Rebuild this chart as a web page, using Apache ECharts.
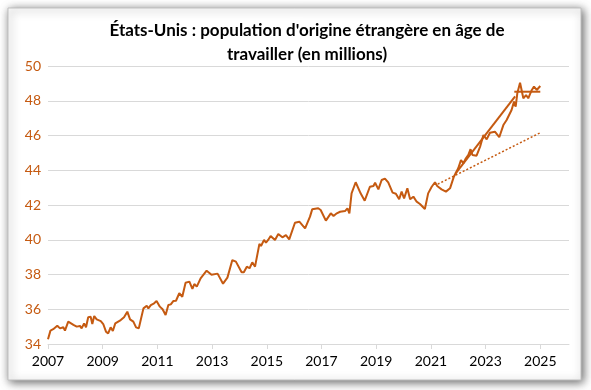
<!DOCTYPE html>
<html>
<head>
<meta charset="utf-8">
<script src="https://cdn.jsdelivr.net/npm/echarts@6/dist/echarts.min.js"></script>
<style>
html,body{margin:0;padding:0;background:#ffffff;}
#c{width:591px;height:390px;}
</style>
</head>
<body>
<div id="c"></div>
<script>
// Decimal years (x) and foreign-born working-age population (millions)
var years = [2007.00,2007.09,2007.19,2007.34,2007.44,2007.56,2007.62,2007.74,2007.80,2007.93,
2008.05,2008.17,2008.23,2008.32,2008.39,2008.47,2008.56,2008.62,2008.69,2008.78,2008.93,
2009.02,2009.12,2009.20,2009.29,2009.37,2009.46,2009.53,2009.66,2009.78,2009.90,
2010.00,2010.12,2010.22,2010.32,2010.39,2010.49,2010.61,2010.67,2010.76,2010.88,2010.97,
2011.09,2011.19,2011.30,2011.40,2011.49,2011.58,2011.68,2011.80,2011.91,
2012.03,2012.10,2012.17,2012.28,2012.35,2012.44,2012.58,2012.80,2012.98,
2013.20,2013.40,2013.56,2013.74,2013.87,
2014.08,2014.16,2014.27,2014.37,2014.47,2014.57,2014.73,2014.79,2014.90,2014.97,
2015.05,2015.14,2015.30,2015.42,2015.57,2015.70,2015.82,
2016.03,2016.19,2016.25,2016.40,2016.58,2016.66,2016.88,2016.97,
2017.16,2017.34,2017.44,2017.56,2017.68,2017.86,2017.95,
2018.02,2018.10,2018.25,2018.43,2018.58,2018.77,2018.90,2018.96,
2019.08,2019.20,2019.32,2019.44,2019.60,2019.72,2019.84,2019.93,
2020.02,2020.14,2020.24,2020.36,2020.48,2020.60,2020.78,2020.90,
2021.03,2021.15,2021.23,2021.39,2021.55,2021.70,2021.84,
2022.00,2022.10,2022.19,2022.28,2022.37,2022.45,2022.52,2022.67,2022.80,2022.92,
2023.04,2023.16,2023.34,2023.50,2023.65,2023.77,2023.95,
2024.04,2024.10,2024.16,2024.26,2024.38,2024.48,2024.56,2024.69,2024.77,2024.87,
2025.00];
var population = [34.27,34.77,34.85,35.05,34.90,34.96,34.77,35.29,35.38,35.10,
35.00,35.04,34.90,35.19,34.96,35.54,35.57,35.15,35.61,35.42,35.32,
35.15,34.71,34.61,34.96,34.75,35.19,35.15,35.38,35.54,35.86,
35.42,35.29,34.96,34.90,35.38,36.05,36.20,36.05,36.24,36.34,36.47,
36.15,36.00,35.67,36.24,36.28,36.47,36.49,36.92,36.72,
37.53,37.49,37.59,37.17,37.45,37.30,37.78,38.22,37.99,
38.05,37.47,37.82,38.83,38.74,
38.13,38.13,38.45,38.36,38.70,38.45,39.76,39.64,39.99,39.83,
39.99,40.22,39.99,40.33,40.14,40.27,40.02,
40.98,41.04,41.10,40.66,41.33,41.75,41.81,41.71,
41.10,41.52,41.37,41.52,41.61,41.65,41.81,
41.52,42.67,43.31,42.67,42.25,43.05,43.09,43.28,
42.90,43.44,43.52,43.30,42.71,42.65,42.33,42.77,
42.38,42.96,42.33,42.48,42.19,42.06,41.77,42.67,
43.05,43.31,43.09,42.90,42.77,42.96,43.63,
44.11,44.59,44.40,44.69,44.88,45.21,44.88,44.84,45.36,46.03,
45.78,46.16,46.22,45.90,46.60,46.89,47.47,
47.95,47.66,48.43,49.04,48.14,48.33,48.14,48.62,48.81,48.62,
48.85];
// Pre-pandemic trend (dotted)
var trendPreX = [2021.25, 2025.00];
var trendPreY = [43.20, 46.16];
// Post-2021 trend (solid)
var trendPostX = [2021.90, 2024.08];
var trendPostY = [43.80, 48.25];
// Recent plateau (solid horizontal)
var plateauX = [2024.05, 2025.00];
var plateauY = [48.52, 48.52];
// Tick labels
var xTicks = [2007, 2009, 2011, 2013, 2015, 2017, 2019, 2021, 2023, 2025];

function pairs(xs, ys){ return xs.map(function(x,i){ return [x, ys[i]]; }); }

var col = '#C55A11';
var chart = echarts.init(document.getElementById('c'), null, {renderer:'canvas'});
chart.setOption({
  animation: false,
  backgroundColor: '#ffffff',
  graphic: [{
    type: 'rect', z: -10,
    shape: {x: 8, y: 8, width: 573, height: 372},
    style: {fill: '#ffffff', stroke: '#bfbfbf', lineWidth: 1,
            shadowBlur: 9, shadowColor: 'rgba(0,0,0,0.6)', shadowOffsetX: 2, shadowOffsetY: 2}
  }],
  title: {
    text: "États-Unis : population d'origine étrangère en âge de\ntravailler (en millions)",
    left: 302, textAlign: 'center', top: 14,
    textStyle: {fontFamily: 'Lato', fontWeight: 'bold', fontSize: 17, color: '#000', lineHeight: 24}
  },
  grid: {left: 48, right: 22, top: 66, bottom: 46},
  xAxis: {
    type: 'value', min: 2007, max: 2026.05,
    axisLine: {show: true, lineStyle: {color: '#d9d9d9', width: 1}},
    axisTick: {show: true, customValues: xTicks, length: 5, lineStyle: {color: '#d9d9d9'}},
    axisLabel: {customValues: xTicks, color: '#000', fontFamily: 'Lato', fontSize: 14, margin: 10,
                formatter: function(v){ return String(Math.round(v)); }},
    splitLine: {show: false}
  },
  yAxis: {
    type: 'value', min: 34, max: 50, interval: 2,
    axisLine: {show: false}, axisTick: {show: false},
    axisLabel: {color: col, fontFamily: 'Lato', fontSize: 14, margin: 7},
    splitLine: {lineStyle: {color: '#d9d9d9', width: 1}}
  },
  series: [
    {type: 'line', data: pairs(years, population), symbol: 'none',
     lineStyle: {color: col, width: 2}},
    {type: 'line', data: pairs(trendPreX, trendPreY), symbol: 'none',
     lineStyle: {color: col, width: 1.5, type: [2, 2]}},
    {type: 'line', data: pairs(trendPostX, trendPostY), symbol: 'none',
     lineStyle: {color: col, width: 2}},
    {type: 'line', data: pairs(plateauX, plateauY), symbol: 'none',
     lineStyle: {color: col, width: 2}}
  ]
});
</script>
</body>
</html>
